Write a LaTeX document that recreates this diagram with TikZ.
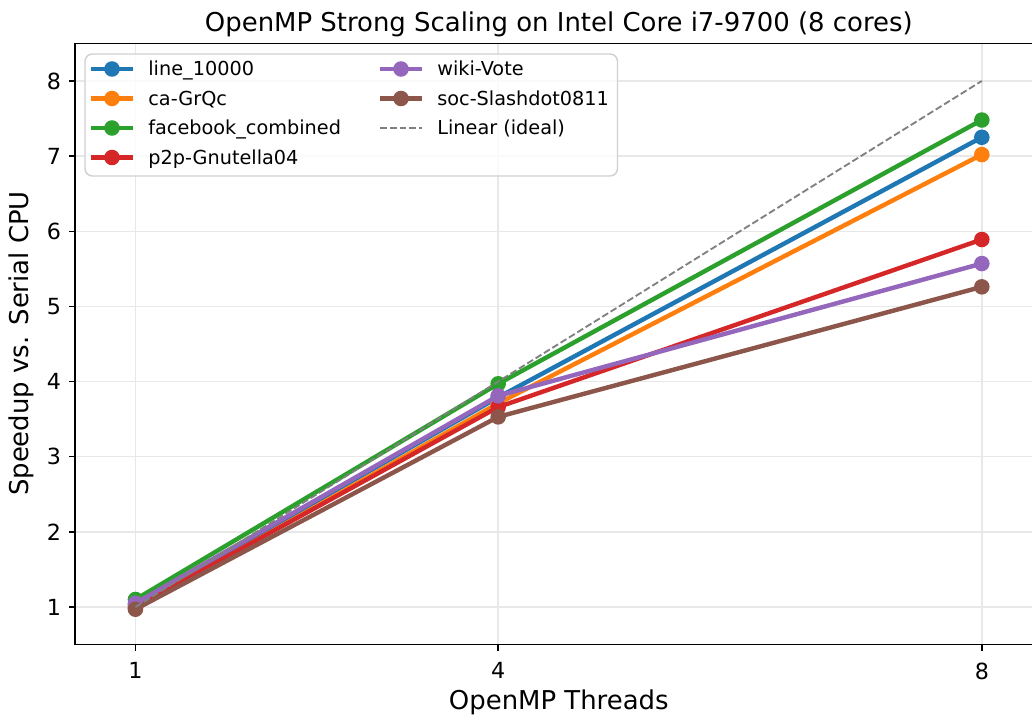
\documentclass[tikz,border=0pt]{standalone}
\usepackage{fontspec}
\setmainfont{DejaVu Sans}
\definecolor{tabblue}{HTML}{1F77B4}
\definecolor{taborange}{HTML}{FF7F0E}
\definecolor{tabgreen}{HTML}{2CA02C}
\definecolor{tabred}{HTML}{D62728}
\definecolor{tabpurple}{HTML}{9467BD}
\definecolor{tabbrown}{HTML}{8C564B}
\definecolor{gridgray}{HTML}{E8E8E8}
\begin{document}
\begin{tikzpicture}[x=0.54pt, y=-0.54pt,
    serie/.style={line width=2.4pt, line join=round},
    ideal/.style={black!50, line width=1pt, dash pattern=on 3.7pt off 1.6pt},
    rejilla/.style={gridgray, line width=0.8pt},
    eje/.style={black, line width=0.8pt},
    num/.style={font=\fontsize{12}{14}\selectfont, inner sep=0pt},
    titulo/.style={font=\fontsize{14}{17}\selectfont, inner sep=0pt},
    clave/.style={font=\fontsize{10.4}{12}\selectfont, inner sep=0pt, anchor=base west}]
  \useasboundingbox (0,0) rectangle (1032,715);
  \clip (0,0) rectangle (1032,715);

  % los ejes, en coordenadas de hilos y aceleración
  \begin{scope}[shift={(14.55,682.14)}, x=65.29pt, y=40.58pt]
    % la rejilla
    \foreach \t in {1,4,8} \draw[rejilla] (\t,0.5) -- (\t,8.5);
    \foreach \s in {1,...,8} \draw[rejilla] (0.5,\s) -- (8.5,\s);
    % una serie por grafo: 1, 4 y 8 hilos
    \foreach \n/\c/\a/\b/\d in {bl/tabblue/1.03/3.79/7.25, or/taborange/0.98/3.71/7.02,
                                gr/tabgreen/1.10/3.97/7.48, rd/tabred/1.00/3.66/5.89,
                                pu/tabpurple/1.05/3.81/5.57, br/tabbrown/0.97/3.53/5.26} {
      \coordinate (\n1) at (1,\a);
      \coordinate (\n4) at (4,\b);
      \coordinate (\n8) at (8,\d);
      \draw[serie, \c] (\n1) -- (\n4) -- (\n8);
      \foreach \k in {1,4,8} \fill[\c] (\n\k) circle (4.2pt);
    }
    % la recta ideal
    \coordinate (id1) at (1,1);
    \coordinate (id8) at (8,8);
    \draw[ideal] (id1) -- (id8);
    % el marco y las marcas
    \draw[eje] (8.5,8.5) -- (0.5,8.5) -- (0.5,0.5) -- (8.5,0.5);
    \foreach \t in {1,4,8} {
      \draw[eje] (\t,0.5) -- ++(0pt,-3.5pt);
      \node[num, anchor=north] (tx\t) at ([yshift=-9.6pt]\t,0.5) {\t};
    }
    \foreach \s in {1,...,8} {
      \draw[eje] (0.5,\s) -- ++(-3.5pt,0pt);
      \node[num, anchor=east] (ty\s) at ([xshift=-7.3pt]0.5,\s) {\s};
    }
  \end{scope}

  % títulos
  \node[titulo, anchor=base] (titulo) at (558.8,32) {OpenMP Strong Scaling on Intel Core i7-9700 (8 cores)};
  \node[titulo, anchor=base] (xlab) at (558.8,709) {OpenMP Threads};
  \node[titulo, anchor=base, rotate=90] (ylab) at (29,343.5) {Speedup vs. Serial CPU};

  % la leyenda
  \draw[black!18, line width=0.8pt, fill=white, fill opacity=0.8, rounded corners=4pt]
    (85,54) rectangle (617.5,176);
  \foreach \c/\txt/\x/\y [count=\i] in {tabblue/line\_10000/91/69, taborange/ca-GrQc/91/98.5,
                                         tabgreen/facebook\_combined/91/128, tabred/p2p-Gnutella04/91/157.5,
                                         tabpurple/wiki-Vote/380/69, tabbrown/soc-Slashdot0811/380/98.5} {
    \draw[serie, \c] (\x,\y) -- (\x+42,\y);
    \fill[\c] (\x+21,\y) circle (4.2pt);
    \node[clave] (clave\i) at (\x+57,\y+7) {\txt};
  }
  \draw[ideal] (380,128) -- (422,128);
  \node[clave] (clave7) at (437,135) {Linear (ideal)};
\end{tikzpicture}
\end{document}
